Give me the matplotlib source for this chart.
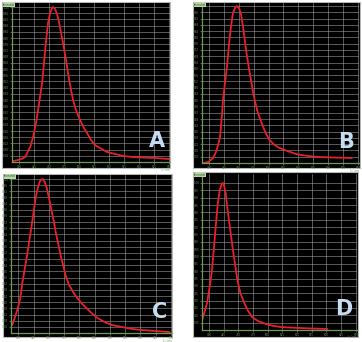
import numpy as np
import matplotlib
matplotlib.use('Agg')
import matplotlib.pyplot as plt
from matplotlib.patches import Rectangle

# spectra (wavelength in nm, normalised intensity)
a_nm = [390.0, 401.6, 410.0, 418.3, 423.3, 428.3, 431.6, 435.0, 438.3, 441.6, 445.0, 448.3,
        451.6, 455.0, 456.6, 460.0, 463.3, 466.6, 470.0, 473.3, 478.3, 481.6, 486.6, 490.0,
        495.0, 501.6, 508.3, 513.3, 520.0, 526.6, 535.0, 546.6, 560.0, 573.3, 590.0, 606.6,
        626.6, 651.6]
a_int = [0.006, 0.016, 0.032, 0.097, 0.161, 0.258, 0.335, 0.426, 0.51, 0.645, 0.787, 0.897,
         0.961, 0.994, 1.0, 0.987, 0.955, 0.903, 0.832, 0.768, 0.658, 0.574, 0.465, 0.40,
         0.335, 0.271, 0.219, 0.187, 0.142, 0.11, 0.09, 0.065, 0.052, 0.039, 0.032, 0.029,
         0.026, 0.019]

b_nm = [390.0, 398.3, 406.6, 411.6, 415.0, 418.3, 421.6, 423.3, 426.6, 430.0, 433.3, 436.6,
        440.0, 443.3, 446.6, 450.0, 453.3, 456.6, 460.0, 463.3, 468.3, 473.3, 476.6, 481.6,
        488.3, 495.0, 501.6, 510.0, 518.3, 531.6, 546.6, 565.0, 585.0, 610.0, 640.0]
b_int = [0.0, 0.006, 0.032, 0.07, 0.115, 0.166, 0.306, 0.40, 0.51, 0.611, 0.752, 0.866,
         0.955, 0.987, 1.0, 0.987, 0.955, 0.879, 0.783, 0.688, 0.573, 0.465, 0.401, 0.325,
         0.255, 0.191, 0.146, 0.115, 0.096, 0.076, 0.057, 0.045, 0.038, 0.035, 0.032]

c_nm = [390.0, 395.0, 398.3, 403.3, 406.6, 411.6, 415.0, 420.0, 423.3, 426.6, 430.0, 433.3,
        436.6, 440.0, 443.3, 446.6, 450.0, 453.3, 458.3, 461.6, 466.6, 470.0, 475.0, 478.3,
        483.3, 490.0, 496.6, 503.3, 511.6, 520.0, 530.0, 541.6, 553.3, 570.0, 586.6, 603.3,
        625.0, 648.3]
c_int = [0.052, 0.11, 0.149, 0.227, 0.325, 0.442, 0.519, 0.649, 0.734, 0.831, 0.909, 0.961,
         0.994, 1.0, 0.981, 0.942, 0.883, 0.818, 0.721, 0.649, 0.558, 0.494, 0.416, 0.364,
         0.31, 0.266, 0.227, 0.195, 0.162, 0.13, 0.097, 0.071, 0.052, 0.039, 0.026, 0.019,
         0.013, 0.006]

d_nm = [388.3, 393.3, 396.6, 401.6, 405.0, 408.3, 411.6, 415.0, 418.3, 421.6, 423.3, 425.0,
        428.3, 431.6, 435.0, 440.0, 445.0, 448.3, 453.3, 460.0, 466.6, 473.3, 483.3, 496.6,
        510.0, 523.3, 551.6, 576.6, 601.6]
d_int = [0.068, 0.136, 0.184, 0.306, 0.408, 0.558, 0.714, 0.864, 0.952, 0.993, 1.0, 0.993,
         0.932, 0.816, 0.714, 0.565, 0.429, 0.34, 0.252, 0.184, 0.129, 0.088, 0.061, 0.041,
         0.027, 0.02, 0.014, 0.01, 0.007]

letters = ['A', 'B', 'C', 'D']
x_ticks = list(range(400, 651, 25))
y_steps = [0.04, 0.04, 0.04, 0.05]
y_tops = [1.026, 1.019, 1.026, 1.061]

W, H = 362, 342
fig = plt.figure(figsize=(W / 100, H / 100), dpi=100)
fig.patch.set_facecolor('white')

# (panel box, plot box) in pixels: left, top, right, bottom
panels = [
    ((2, 2, 170, 168), (12, 3, 170, 162)),
    ((193, 2, 360, 168), (202, 3, 359, 163)),
    ((3, 174, 172, 337), (11, 175, 172, 333)),
    ((193, 172, 358, 337), (202, 174, 357, 330)),
]
series = [(a_nm, a_int), (b_nm, b_int), (c_nm, c_int), (d_nm, d_int)]
green = '#6f9a58'


def frac(l, t, r, b):
    return [l / W, 1 - b / H, (r - l) / W, (b - t) / H]


for i, ((pb, ab), (xs, ys)) in enumerate(zip(panels, series)):
    l, t, r, b = pb
    fig.patches.append(Rectangle((l / W, 1 - b / H), (r - l) / W, (b - t) / H,
                                 transform=fig.transFigure, facecolor='black',
                                 edgecolor='#b8b8b8', lw=0.8, zorder=-5))
    ax = fig.add_axes(frac(*ab))
    ax.set_zorder(2)
    ax.set_facecolor('black')
    ax.set_xlim(388, 652)
    ax.set_ylim(0, y_tops[i])
    ax.set_xticks(x_ticks)
    ax.set_yticks(np.arange(y_steps[i], 1.0001, y_steps[i]))
    ax.set_xticklabels([str(v) for v in x_ticks])
    ax.set_yticklabels(['%.2f' % v for v in ax.get_yticks()])
    ax.grid(True, color='#b0b0b0', lw=0.5, alpha=0.7)
    ax.tick_params(colors=green, labelsize=2.0, length=1.2, width=0.5, pad=0.8)
    for s in ['top', 'right']:
        ax.spines[s].set_visible(False)
    for s in ['left', 'bottom']:
        ax.spines[s].set_color(green)
        ax.spines[s].set_linewidth(0.9)
    ax.plot(xs, ys, color='#e8202a', lw=1.3, solid_joinstyle='round',
            solid_capstyle='round')
    if letters[i] == 'D':
        ax.axvline(xs[0], ymin=0.06, color='#a01818', lw=0.7)
    ax.text(0.97, 0.07, letters[i], transform=ax.transAxes, ha='right', va='bottom',
            fontsize=15, fontweight='bold', color='#c6dcf2', family='DejaVu Sans')
    ax.text(1.0, -0.035, 'λ / nm', transform=ax.transAxes, ha='right', va='top',
            fontsize=2.0, color=green)
    fig.text((l + 1) / W, 1 - (t + 0.5) / H, 'Intensität', ha='left', va='top',
             fontsize=1.8, color='#204020', zorder=5,
             bbox=dict(facecolor='#b8d8a8', edgecolor='none', pad=0.3))

fig.savefig('out.png', dpi=100, facecolor='white')
